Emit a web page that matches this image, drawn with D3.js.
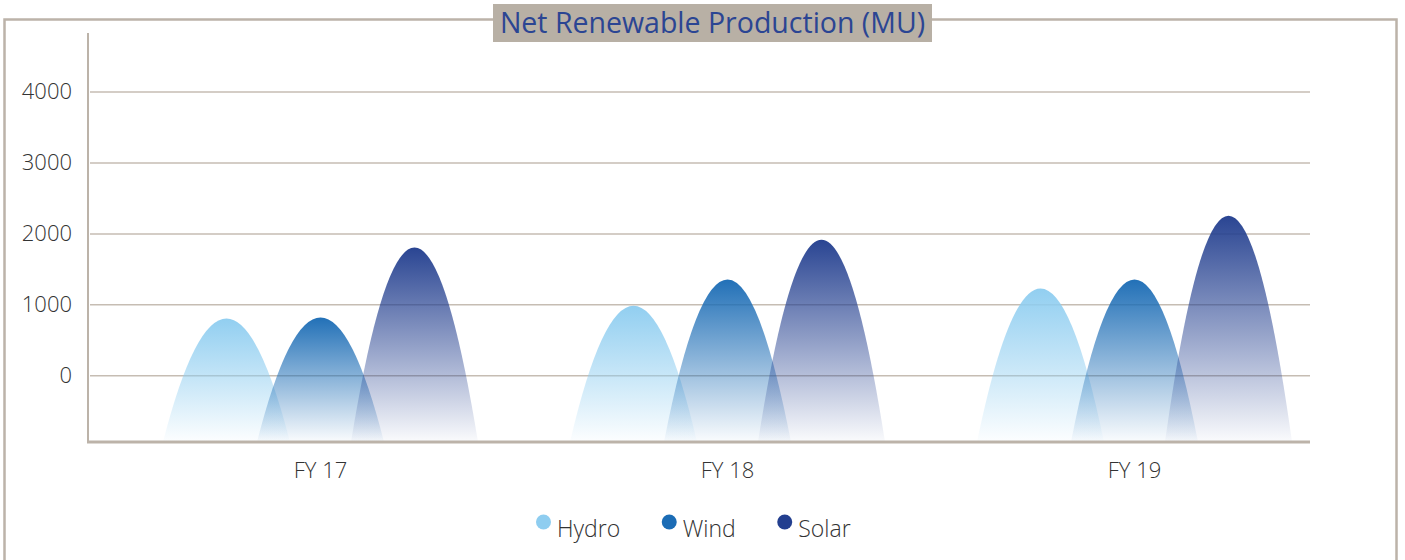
<!DOCTYPE html>
<html>
<head>
<meta charset="utf-8">
<script src="https://cdn.jsdelivr.net/npm/d3@7"></script>
<style>
  body { margin: 0; background: #fff; }
  svg { display: block; font-family: "Open Sans", sans-serif; }
</style>
</head>
<body>
<div id="chart"></div>
<script>
const years = ["FY 17", "FY 18", "FY 19"];
const series = ["Hydro", "Wind", "Solar"];
const hydro = [800, 980, 1225];
const wind = [815, 1350, 1350];
const solar = [1800, 1910, 2250];
const yTicks = [0, 1000, 2000, 3000, 4000];
const colors = ["#8ecdf0", "#1b6cb5", "#233f8f"];

const width = 1405, height = 560;
const axisX = 88, axisEnd = 1310, yMin = -940;

const svg = d3.select("#chart")
  .append("svg")
  .attr("width", width)
  .attr("height", height);

let values = { Hydro: hydro, Wind: wind, Solar: solar };
let data = [];
years.forEach((yr, i) => {
  series.forEach(s => data.push({ year: yr, series: s, value: values[s][i] }));
});

let x = d3.scaleBand()
  .domain(years)
  .range([117, 1338]);

let x1 = d3.scaleBand()
  .domain(series)
  .range([-141, 141]);

let y = d3.scaleLinear()
  .domain([0, 4000])
  .range([375.3, 91.5]);

let color = d3.scaleOrdinal().domain(series).range(colors);

// outer frame
svg.append("rect")
  .attr("x", 4.5).attr("y", 19.5)
  .attr("width", 1392).attr("height", 560)
  .attr("fill", "none")
  .attr("stroke", "#bcb3a9")
  .attr("stroke-width", 2.5);

// title
svg.append("rect")
  .attr("x", 493).attr("y", 4)
  .attr("width", 439).attr("height", 38)
  .attr("fill", "#b8b0a5");

svg.append("text")
  .attr("x", 712.5).attr("y", 32.5)
  .attr("text-anchor", "middle")
  .attr("font-size", 28.5)
  .attr("fill", "#2b4593")
  .text("Net Renewable Production (MU)");

// gridlines + y labels
let yAxis = svg.append("g")
  .attr("transform", `translate(${axisX},0)`)
  .call(d3.axisLeft(y).tickValues(yTicks).tickSize(-(axisEnd - axisX)).tickPadding(16).tickFormat(d => d));

yAxis.select(".domain").remove();
yAxis.selectAll(".tick line")
  .attr("x1", 2)
  .attr("stroke", "#c6bdb3")
  .attr("stroke-width", 1.5);
yAxis.selectAll(".tick text")
  .attr("font-size", 22)
  .attr("font-weight", 300)
  .attr("fill", "#333")
  .attr("font-family", "'Open Sans', sans-serif");

// gradients
let defs = svg.append("defs");
series.forEach(s => {
  let g = defs.append("linearGradient")
    .attr("id", "grad-" + s)
    .attr("x1", 0).attr("y1", 0).attr("x2", 0).attr("y2", 1);
  g.append("stop").attr("offset", 0).attr("stop-color", color(s)).attr("stop-opacity", 0.97);
  g.append("stop").attr("offset", 0.5).attr("stop-color", color(s)).attr("stop-opacity", 0.5);
  g.append("stop").attr("offset", 1).attr("stop-color", color(s)).attr("stop-opacity", 0.02);
});

// mountain shapes (parabolic peaks)
let halfW = 63.5;
let base = y(yMin);
let peak = d => {
  let cx = x(d.year) + x.bandwidth() / 2 + x1(d.series) + x1.bandwidth() / 2;
  let top = y(d.value);
  let ctrl = 2 * top - base;
  return `M${cx - halfW},${base} Q${cx},${ctrl} ${cx + halfW},${base} Z`;
};

svg.append("g")
  .selectAll("path")
  .data(data)
  .join("path")
  .attr("d", peak)
  .attr("fill", d => `url(#grad-${d.series})`);

// y axis line
svg.append("line")
  .attr("x1", axisX).attr("x2", axisX)
  .attr("y1", 33).attr("y2", base + 1)
  .attr("stroke", "#bcb3a9")
  .attr("stroke-width", 2);

// x axis
let xAxis = svg.append("g")
  .attr("transform", `translate(0,${base})`)
  .call(d3.axisBottom(x).tickSize(0).tickPadding(20));

xAxis.select(".domain").remove();
xAxis.append("line")
  .attr("x1", axisX - 1).attr("x2", axisEnd)
  .attr("stroke", "#bcb3a9")
  .attr("stroke-width", 3);
xAxis.selectAll(".tick text")
  .attr("font-size", 22)
  .attr("font-weight", 300)
  .attr("fill", "#333")
  .attr("font-family", "'Open Sans', sans-serif");

// legend
let legend = svg.append("g").attr("transform", "translate(0,537)");
let lx = 536;
series.forEach(s => {
  legend.append("circle")
    .attr("cx", lx + 7.5).attr("cy", -15)
    .attr("r", 7.5)
    .attr("fill", color(s));
  let t = legend.append("text")
    .attr("x", lx + 21).attr("y", 0)
    .attr("font-size", 23)
    .attr("font-weight", 300)
    .attr("fill", "#333")
    .text(s);
  lx += 21 + t.node().getComputedTextLength() + 41.5;
});
</script>
</body>
</html>
